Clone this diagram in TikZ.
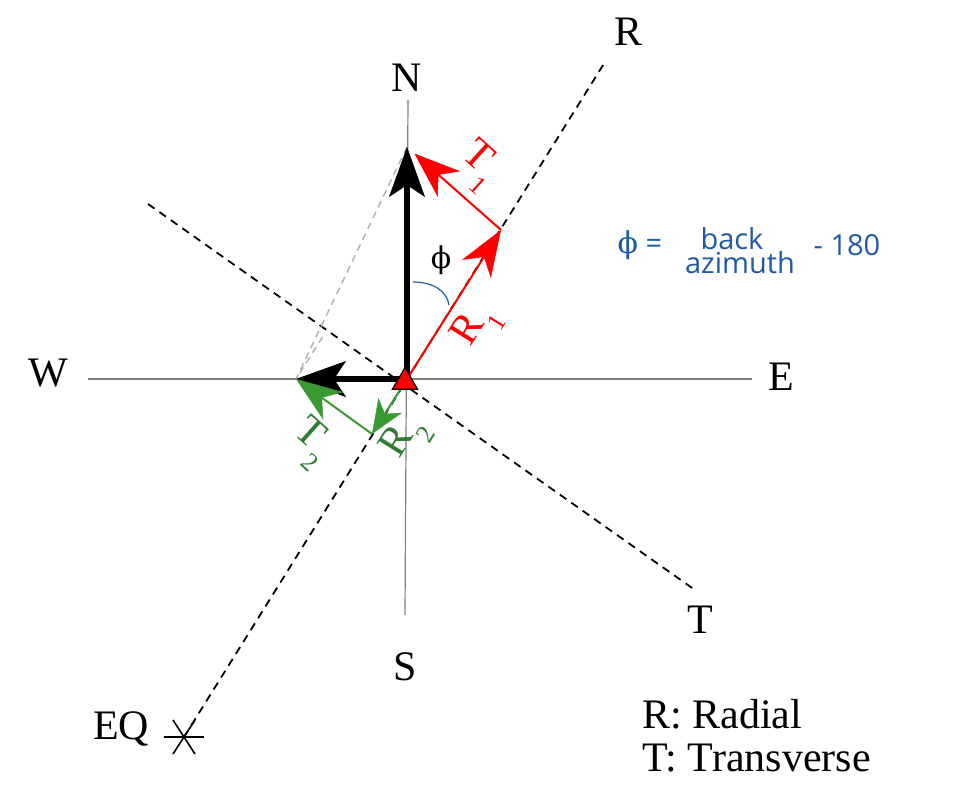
\documentclass[tikz,border=0pt]{standalone}
\usepackage{fontspec}
\setmainfont{Liberation Serif}
\newfontfamily\eqsans{Open Sans}
\newfontfamily\phifont{DejaVu Serif}
\usetikzlibrary{arrows.meta,shapes.geometric}
\definecolor{CRed}{HTML}{FF0000}
\definecolor{CGreen}{HTML}{3A9A32}
\definecolor{CGreenDark}{HTML}{2E7D32}
\definecolor{CBlue}{HTML}{1F5AA8}
\definecolor{CGrayAxis}{HTML}{808080}
\definecolor{CGrayLight}{HTML}{B4B4B4}
\newcommand{\lowsub}[1]{\raisebox{-0.42em}{\fontsize{26}{26}\selectfont #1}}

\begin{document}
\begin{tikzpicture}[x=1pt, y=1pt,
    axis/.style={draw=CGrayAxis, line width=1.2pt},
    dirline/.style={draw, line width=1.8pt, dash pattern=on 8pt off 6pt},
    helper/.style={draw=CGrayLight, line width=1.5pt, dash pattern=on 7pt off 5pt},
    vec/.style={line width=2pt, -{Stealth[length=46pt, width=34pt, inset=14pt, line width=0.5pt]}},
    smallvec/.style={line width=2pt, -{Stealth[length=34pt, width=28pt, inset=10pt, line width=0.5pt]}},
    bigvec/.style={line width=6pt, -{Stealth[length=50pt, width=36pt, inset=12pt, line width=0.5pt]}},
    compass/.style={font=\fontsize{42}{42}\selectfont, inner sep=0pt},
    comp/.style={font=\fontsize{42}{42}\selectfont, inner sep=0pt},
    eqtext/.style={text=CBlue, font=\eqsans\fontsize{29}{29}\selectfont, inner sep=0pt}
]
  \useasboundingbox (-407,-421) rectangle (562,379);

  % points
  \coordinate (sta) at (0,0);
  \coordinate (ntip) at (0,232);
  \coordinate (wtip) at (-111,0);
  \coordinate (r1tip) at (94,149);
  \coordinate (r2tip) at (-35,-55);
  \coordinate (eqpt) at (-223,-358);
  \coordinate (rend) at (198,317);
  \coordinate (tstart) at (-259,175);
  \coordinate (tend) at (288,-211);
  \coordinate (taxis) at (-82,46);

  % compass axes
  \draw[axis] (-319,0) -- (345,0);
  \draw[axis] (1,279) -- (-2,-236);

  % radial and transverse directions
  \draw[dirline] (eqpt) -- (rend);
  \draw[dirline] (tstart) -- (tend);
  \draw[helper] (ntip) -- (wtip) -- (taxis);

  % horizontal components
  \draw[bigvec] (sta) -- (ntip);
  \draw[bigvec] (sta) -- (wtip);

  \draw[vec, CRed] (sta) -- (r1tip);
  \draw[vec, CRed, shorten >=10pt] (r1tip) -- (ntip);
  \draw[smallvec, CGreen, shorten <=8pt] (sta) -- (r2tip);
  \draw[vec, CGreen] (r2tip) -- (wtip);

  \draw[CBlue, line width=1.2pt] (6,97) .. controls (26,97) and (40,88) .. (42,74);

  % station
  \node[regular polygon, regular polygon sides=3, minimum size=29pt, inner sep=0pt,
        fill=CRed, draw, line width=1.2pt] (station) at (-2,-3) {};

  % earthquake
  \draw[line width=1.6pt, shift={(eqpt)}] (-20,0) -- (20,0) (-11,-17) -- (11,17) (-11,17) -- (11,-17);

  % labels
  \node[compass] (lblN) at (0,301) {N};
  \node[compass] (lblS) at (-2,-288) {S};
  \node[compass] (lblW) at (-359,6) {W};
  \node[compass] (lblE) at (374,2) {E};
  \node[compass] (lblR) at (222,347) {R};
  \node[compass] (lblT) at (293,-241) {T};
  \node[compass] (lblEQ) at (-286,-350) {EQ};

  \node[comp, text=CRed, rotate=-42] (lblT1) at (71,213) {T\lowsub{1}};
  \node[comp, text=CRed, rotate=58] (lblR1) at (70,52) {R\lowsub{1}};
  \node[comp, text=CGreenDark, rotate=-42] (lblT2) at (-97,-64) {T\lowsub{2}};
  \node[comp, text=CGreenDark, rotate=58] (lblR2) at (-1,-60) {R\lowsub{2}};

  \node[font=\phifont\fontsize{30}{30}\selectfont, inner sep=0pt] (philbl) at (34,119) {ϕ};

  \node[eqtext] (eqlhs) at (233,134) {{\phifont\fontsize{30}{30}\selectfont ϕ} =};
  \node[eqtext] (eqback) at (325,140) {back};
  \node[eqtext] (eqazi) at (333,116) {azimuth};
  \node[eqtext] (eqrhs) at (440,134) {- 180};

  \node[font=\fontsize{42}{43}\selectfont, align=left, inner sep=0pt, anchor=north west]
    (legend) at (235,-320) {R: Radial\\T: Transverse};
\end{tikzpicture}
\end{document}
